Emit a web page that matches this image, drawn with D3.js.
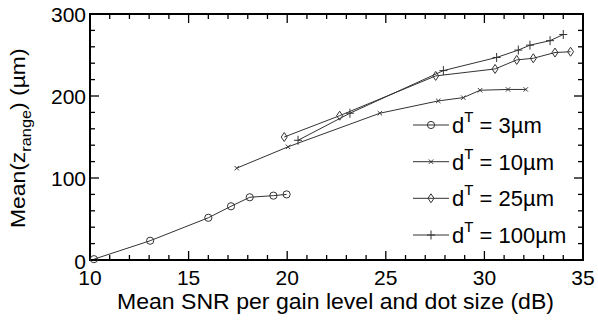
<!DOCTYPE html>
<html>
<head>
<meta charset="utf-8">
<script src="https://cdn.jsdelivr.net/npm/d3@7"></script>
<style>
  body { margin: 0; background: #fff; }
  text { font-family: Arial, "Liberation Sans", sans-serif; fill: #000; }
</style>
</head>
<body>
<svg id="chart" width="598" height="320"></svg>
<script>
// values
const snr3 = [10.2, 13.05, 16.0, 17.15, 18.1, 19.3, 19.97];
const z3 = [1, 23.5, 51.5, 65.5, 76.5, 78.5, 80];

const snr10 = [17.44, 20.04, 24.7, 27.66, 28.93, 29.78, 31.2, 32.1];
const z10 = [112, 138, 179, 194, 198, 207, 208, 208];

const snr25 = [19.85, 22.66, 27.53, 30.54, 31.64, 32.48, 33.58, 34.37];
const z25 = [150, 176, 224.5, 233, 244, 246, 253, 254];

const snr100 = [20.55, 23.18, 27.92, 30.62, 31.72, 32.31, 33.33, 34.0];
const z100 = [146, 179, 231, 247, 256, 262, 267.5, 275];

const seriesNames = ['3\u00b5m', '10\u00b5m', '25\u00b5m', '100\u00b5m'];
const markerKinds = ['circle', 'x', 'diamond', 'plus'];

const xTicks = [10, 15, 20, 25, 30, 35];
const yTicks = [0, 100, 200, 300];

const svg = d3.select('#chart');
const plotL = 90, plotR = 583, plotT = 14, plotB = 260;

const x = d3.scaleLinear().domain([10, 35]).range([plotL, plotR]);
const y = d3.scaleLinear().domain([0, 300]).range([plotB, plotT]);

const series = [
	{ name: seriesNames[0], kind: markerKinds[0], pts: d3.zip(snr3, z3) },
	{ name: seriesNames[1], kind: markerKinds[1], pts: d3.zip(snr10, z10) },
	{ name: seriesNames[2], kind: markerKinds[2], pts: d3.zip(snr25, z25) },
	{ name: seriesNames[3], kind: markerKinds[3], pts: d3.zip(snr100, z100) },
];

function marker(g, kind) {
	if (kind === 'circle') {
		g.append('circle').attr('r', 3.6).attr('fill', 'none');
	} else if (kind === 'x') {
		g.append('path').attr('d', 'M-2.2,-2.2L2.2,2.2M-2.2,2.2L2.2,-2.2');
	} else if (kind === 'diamond') {
		g.append('path').attr('d', 'M0,-4.5L3,0L0,4.5L-3,0Z').attr('fill', 'none');
	} else {
		g.append('path').attr('d', 'M-4,0L4,0M0,-4.5L0,4.5');
	}
}

// minor + major ticks, inward, on all sides
const frame = svg.append('g').attr('stroke', '#000');
d3.range(10, 35.01, 1).forEach(v => {
	const len = v % 5 === 0 ? 9 : 5;
	frame.append('line').attr('x1', x(v)).attr('x2', x(v))
		.attr('y1', plotB).attr('y2', plotB - len).attr('stroke-width', 1.3);
	frame.append('line').attr('x1', x(v)).attr('x2', x(v))
		.attr('y1', plotT).attr('y2', plotT + len).attr('stroke-width', 1.3);
});
d3.range(0, 300.01, 20).forEach(v => {
	const len = v % 100 === 0 ? 9 : 5;
	frame.append('line').attr('x1', plotL).attr('x2', plotL + len)
		.attr('y1', y(v)).attr('y2', y(v)).attr('stroke-width', 1.3);
	frame.append('line').attr('x1', plotR).attr('x2', plotR - len)
		.attr('y1', y(v)).attr('y2', y(v)).attr('stroke-width', 1.3);
});
frame.append('rect').attr('x', plotL).attr('y', plotT)
	.attr('width', plotR - plotL).attr('height', plotB - plotT)
	.attr('fill', 'none').attr('stroke-width', 2);

// tick labels
svg.append('g').selectAll('text').data(xTicks).join('text')
	.attr('x', d => x(d)).attr('y', 285)
	.attr('text-anchor', 'middle').attr('font-size', 21).text(d => d);
svg.append('g').selectAll('text').data(yTicks).join('text')
	.attr('x', 86).attr('y', d => y(d) + (d === 0 ? 9 : 8))
	.attr('text-anchor', 'end').attr('font-size', 21).text(d => d);

// axis titles (the original font is a bit wider than Arial)
svg.append('text').attr('x', 117).attr('y', 309)
	.attr('font-size', 21.5).attr('textLength', 437).attr('lengthAdjust', 'spacingAndGlyphs')
	.text('Mean SNR per gain level and dot size (dB)');

const yl = svg.append('text').attr('font-size', 21)
	.attr('transform', 'translate(25,228) rotate(-90) scale(1.09,1)');
yl.append('tspan').text('Mean(z');
yl.append('tspan').attr('font-size', 15).attr('dy', 6).text('range');
yl.append('tspan').attr('dy', -6).text(') (\u00b5m)');

// series
const line = d3.line().x(d => x(d[0])).y(d => y(d[1]));
series.forEach(s => {
	svg.append('path').attr('d', line(s.pts)).attr('fill', 'none')
		.attr('stroke', '#333').attr('stroke-width', 1);
	s.pts.forEach(p => {
		const g = svg.append('g').attr('transform', `translate(${x(p[0])},${y(p[1])})`)
			.attr('stroke', '#333').attr('stroke-width', 1);
		marker(g, s.kind);
	});
});

// legend
const legY = [125, 161.7, 198.3, 235];
series.forEach((s, i) => {
	const g = svg.append('g');
	g.append('line').attr('x1', 413).attr('x2', 449).attr('y1', legY[i]).attr('y2', legY[i])
		.attr('stroke', '#333').attr('stroke-width', 1);
	const m = g.append('g').attr('transform', `translate(431,${legY[i]})`)
		.attr('stroke', '#333').attr('stroke-width', 1);
	marker(m, s.kind);
	const t = g.append('text').attr('x', 452).attr('y', legY[i] + 8).attr('font-size', 22);
	t.append('tspan').text('d');
	t.append('tspan').attr('font-size', 15).attr('dy', -11).text('T');
	t.append('tspan').attr('dy', 11).text(' = ' + s.name);
});
</script>
</body>
</html>
